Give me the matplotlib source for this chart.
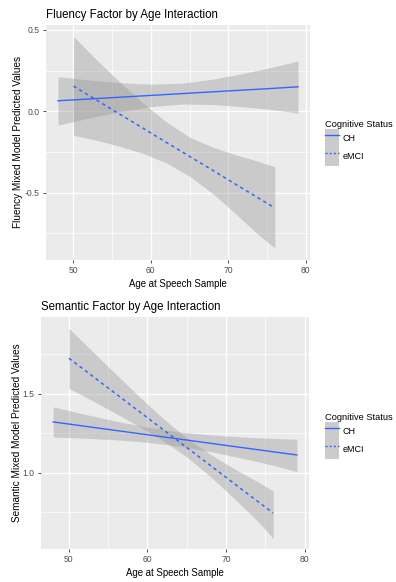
import matplotlib.pyplot as plt
from matplotlib.patches import Patch
from matplotlib.lines import Line2D

plt.rcParams['font.family'] = ['Liberation Sans', 'DejaVu Sans']

# Fluency panel
flu_ch_age = [48, 52, 56, 60, 64, 68, 72, 76, 79]
flu_ch_fit = [0.064, 0.075, 0.086, 0.097, 0.108, 0.119, 0.130, 0.141, 0.150]
flu_ch_hi = [0.212, 0.192, 0.175, 0.166, 0.172, 0.197, 0.233, 0.274, 0.309]
flu_ch_lo = [-0.086, -0.042, -0.003, 0.028, 0.044, 0.041, 0.027, 0.008, -0.012]

flu_mci_age = [50, 53, 56, 59, 62, 65, 68, 71, 74, 76]
flu_mci_fit = [0.154, 0.068, -0.019, -0.105, -0.192, -0.278, -0.364, -0.451, -0.537, -0.595]
flu_mci_hi = [0.459, 0.315, 0.178, 0.050, -0.066, -0.160, -0.221, -0.269, -0.310, -0.342]
flu_mci_lo = [-0.148, -0.179, -0.216, -0.260, -0.318, -0.400, -0.507, -0.633, -0.765, -0.840]

# Semantic panel
sem_ch_age = [48, 52, 56, 60, 64, 68, 72, 76, 79]
sem_ch_fit = [1.323, 1.296, 1.269, 1.242, 1.215, 1.188, 1.161, 1.134, 1.114]
sem_ch_hi = [1.418, 1.372, 1.328, 1.290, 1.260, 1.241, 1.228, 1.219, 1.213]
sem_ch_lo = [1.228, 1.220, 1.210, 1.194, 1.170, 1.135, 1.094, 1.049, 1.008]

sem_mci_age = [50, 53, 56, 59, 62, 65, 68, 71, 74, 76]
sem_mci_fit = [1.726, 1.613, 1.500, 1.387, 1.274, 1.161, 1.048, 0.934, 0.821, 0.746]
sem_mci_hi = [1.916, 1.769, 1.624, 1.481, 1.344, 1.221, 1.118, 1.028, 0.945, 0.886]
sem_mci_lo = [1.536, 1.457, 1.376, 1.293, 1.204, 1.101, 0.978, 0.840, 0.697, 0.585]

groups = ['CH', 'eMCI']
blue = '#3366FF'
band = '#999999'

fig = plt.figure(figsize=(3.96, 5.82), dpi=100)
ax1 = fig.add_axes([46/396, 1-260/582, 264/396, 235/582])
ax2 = fig.add_axes([41/396, 1-549/582, 268/396, 232/582])


def style(ax, xmin, xmax, ymin, ymax, yticks, yminor):
    ax.set_facecolor('#EBEBEB')
    for s in ax.spines.values():
        s.set_visible(False)
    ax.set_xlim(xmin, xmax)
    ax.set_ylim(ymin, ymax)
    ax.set_xticks([50, 60, 70, 80])
    ax.set_xticks([55, 65, 75], minor=True)
    ax.set_yticks(yticks)
    ax.set_yticks(yminor, minor=True)
    ax.grid(which='major', color='white', lw=1.0)
    ax.grid(which='minor', color='white', lw=0.5)
    ax.set_axisbelow(True)
    ax.tick_params(which='major', length=2.5, width=0.6, color='#333333',
                   labelsize=6.2, labelcolor='#4D4D4D', pad=2)
    ax.tick_params(which='minor', length=0)
    ax.set_xlabel('Age at Speech Sample', fontsize=6.9, labelpad=3)


def draw(ax, ch, mci):
    ax.fill_between(ch[0], ch[3], ch[2], color=band, alpha=0.4, lw=0)
    ax.fill_between(mci[0], mci[3], mci[2], color=band, alpha=0.4, lw=0)
    ax.plot(ch[0], ch[1], color=blue, lw=1.0)
    ax.plot(mci[0], mci[1], color=blue, lw=1.1, dashes=(2.2, 2.2))


draw(ax1, (flu_ch_age, flu_ch_fit, flu_ch_hi, flu_ch_lo),
     (flu_mci_age, flu_mci_fit, flu_mci_hi, flu_mci_lo))
style(ax1, 46.45, 80.55, -0.915, 0.53, [-0.5, 0.0, 0.5], [-0.75, -0.25, 0.25])
ax1.set_yticklabels(['-0.5', '0.0', '0.5'])
ax1.set_ylabel('Fluency Mixed Model Predicted Values', fontsize=7.2)
ax1.yaxis.set_label_coords((23-46)/264, 0.5)
ax1.set_title('Fluency Factor by Age Interaction', fontsize=8.3, loc='left', pad=5)

draw(ax2, (sem_ch_age, sem_ch_fit, sem_ch_hi, sem_ch_lo),
     (sem_mci_age, sem_mci_fit, sem_mci_hi, sem_mci_lo))
style(ax2, 46.45, 80.55, 0.519, 1.987, [1.0, 1.5], [0.75, 1.25, 1.75])
ax2.set_yticklabels(['1.0', '1.5'])
ax2.set_ylabel('Semantic Mixed Model Predicted Values', fontsize=7.2)
ax2.yaxis.set_label_coords((22-41)/268, 0.5)
ax2.set_title('Semantic Factor by Age Interaction', fontsize=8.3, loc='left', pad=5)

for ax, ytop in [(ax1, 118), (ax2, 411)]:
    handles = [(Patch(fc=band, alpha=0.5, lw=0), Line2D([], [], color=blue, lw=1.0)),
               (Patch(fc=band, alpha=0.5, lw=0), Line2D([], [], color=blue, lw=1.0, dashes=(1.5, 1.5)))]
    leg = fig.legend(handles, groups, title='Cognitive Status', loc='upper left',
                     bbox_to_anchor=(323/396, 1-ytop/582), frameon=False,
                     fontsize=6.5, title_fontsize=6.7, handlelength=1.6,
                     handleheight=2.8, labelspacing=0, handletextpad=0.35,
                     borderpad=0.2, borderaxespad=0)
    leg._legend_box.align = 'left'

fig.savefig('out.png', dpi=100)
